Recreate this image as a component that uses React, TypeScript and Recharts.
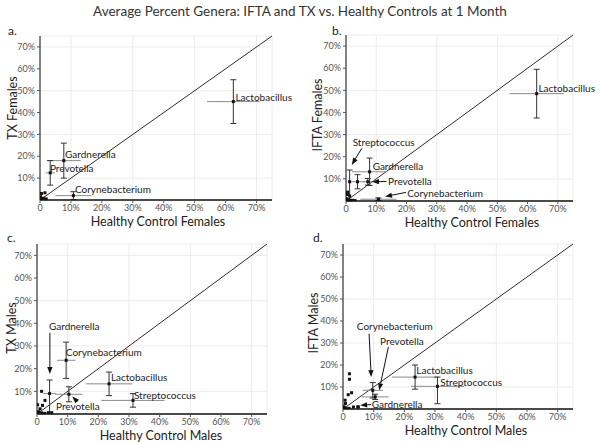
import {
  ScatterChart,
  Scatter,
  XAxis,
  YAxis,
  CartesianGrid,
  ErrorBar,
  ReferenceLine,
  ReferenceDot,
} from "recharts";

const FONT = "Lato, 'Open Sans', sans-serif";
const X_TICKS = [0, 10, 20, 30, 40, 50, 60, 70];
const Y_TICKS = [10, 20, 30, 40, 50, 60, 70];

// [genus, healthy %, patient %, x error, y error]
type Pt = [string, number, number, number | number[] | null, number | number[] | null];
type Lbl = [string, number, number];
type Arr = [number, number, number, number];

// a. TX Females vs Healthy Control Females
const aPoints: Pt[] = [
  ["Lactobacillus", 62.5, 45, 8.5, 10],
  ["Gardnerella", 7.7, 18, 5.5, 8],
  ["Prevotella", 3.3, 12.4, 1.5, 5.6],
  ["Corynebacterium", 10.8, 2, 5.8, 1.8],
];
const aMinor = [[0.5, 3], [1.6, 3.3], [0.2, 1.5], [1.1, 0.8], [0.3, 0.3], [2, 0.5], [0.8, 0.2]];
const aLabels: Lbl[] = [
  ["Lactobacillus", 63.2, 47.1],
  ["Gardnerella", 8.1, 20.6],
  ["Prevotella", 3.2, 14.6],
  ["Corynebacterium", 11.3, 5],
];
const aArrows: Arr[] = [];

// b. IFTA Females vs Healthy Control Females
const bPoints: Pt[] = [
  ["Lactobacillus", 63, 48.5, 9, 11],
  ["Gardnerella", 7.8, 13.2, 5.8, 6.2],
  ["Prevotella", 7.2, 8.7, 1.5, 1.5],
  ["Streptococcus", 1.2, 8.7, 0.5, [8.7, 5.3]],
  ["", 3.8, 8.7, 2.5, 3.2],
  ["Corynebacterium", 10.7, 0.8, 6, 0.6],
];
const bMinor = [[0.5, 3], [1.2, 2.3], [0.3, 1], [1.5, 0.3], [0.8, 0.5], [2.2, 0.3], [0.2, 0.2], [3, 0.2], [0.5, 4]];
const bLabels: Lbl[] = [
  ["Lactobacillus", 63.6, 51],
  ["Streptococcus", 2.2, 26.4],
  ["Gardnerella", 8.8, 15.5],
  ["Prevotella", 13.9, 9],
  ["Corynebacterium", 20.2, 3.6],
];
const bArrows: Arr[] = [
  [5.2, 23.8, 1.9, 16.3],
  [13.4, 8.8, 8.6, 8.7],
  [19.8, 3.9, 12.9, 2.0],
];

// c. TX Males vs Healthy Control Males
const cPoints: Pt[] = [
  ["Gardnerella", 4.1, 9, 2.1, [8.6, 6]],
  ["Corynebacterium", 9.5, 23.7, 3, 8],
  ["Prevotella", 10.4, 8.7, 4.4, 3.3],
  ["Lactobacillus", 23.5, 13.3, 7.6, 5.2],
  ["Streptococcus", 31.3, 6, 10.3, 3],
];
const cMinor = [[1.5, 10], [1.8, 3.8], [0.2, 4.1], [2.6, 6], [3.7, 0.6], [4.8, 0.6], [1, 2.3], [0.5, 1], [1.5, 0.5], [0.3, 0.3], [2.5, 0.3]];
const cLabels: Lbl[] = [
  ["Gardnerella", 3.9, 38.5],
  ["Corynebacterium", 9.4, 27],
  ["Lactobacillus", 24.1, 15.9],
  ["Streptococcus", 31.6, 8],
  ["Prevotella", 6.2, 3.5],
];
const cArrows: Arr[] = [
  [4.2, 35.8, 4.2, 17.7],
  [12.8, 5.9, 11.5, 7.7],
];

// d. IFTA Males vs Healthy Control Males
const dPoints: Pt[] = [
  ["Lactobacillus", 23.5, 14.5, 7.6, 5.5],
  ["Streptococcus", 30.8, 10.3, 8.7, [7.9, 4.2]],
  ["Corynebacterium", 9.7, 8.5, 3.3, 3.5],
  ["Prevotella", 10.5, 5.5, 4.4, 1.2],
  ["Gardnerella", 5, 1, null, null],
];
const dMinor = [[2.1, 16], [2.1, 13.5], [1.7, 6.5], [2.8, 7.4], [0.7, 4], [0.8, 2.5], [4.8, 0.9], [3.4, 0.9], [0.3, 1], [1, 0.4], [0.2, 0.2], [2, 0.3]];
const dLabels: Lbl[] = [
  ["Corynebacterium", 4.5, 37.7],
  ["Prevotella", 12.1, 30.9],
  ["Lactobacillus", 23.9, 17.3],
  ["Streptococcus", 31.7, 11.9],
  ["Gardnerella", 9.4, 2],
];
const dArrows: Arr[] = [
  [8.5, 34.2, 9.2, 14.5],
  [14.8, 28.2, 11.8, 8.5],
  [9.2, 2, 5.6, 1.7],
];

const panels = [
  {
    letter: "a.", left: 0, top: 0, h: 232, yw: 40, xh: 32, mt: 36, mr: 28, lx: 8, ly: 23,
    yTitle: "TX Females", yt: [12, 108], xTitle: "Healthy Control Females", xt: [158, 221],
    points: aPoints, minor: aMinor, labels: aLabels, arrows: aArrows,
  },
  {
    letter: "b.", left: 300, top: 0, h: 232, yw: 46, xh: 31, mt: 35, mr: 27, lx: 32, ly: 23,
    yTitle: "IFTA Females", yt: [17, 115], xTitle: "Healthy Control Females", xt: [172, 222],
    points: bPoints, minor: bMinor, labels: bLabels, arrows: bArrows,
  },
  {
    letter: "c.", left: 0, top: 222, h: 222, yw: 37, xh: 30, mt: 22, mr: 33, lx: 7, ly: 8,
    yTitle: "TX Males", yt: [11, 106], xTitle: "Healthy Control Males", xt: [161, 213],
    points: cPoints, minor: cMinor, labels: cLabels, arrows: cArrows,
  },
  {
    letter: "d.", left: 300, top: 222, h: 222, yw: 43, xh: 35, mt: 22, mr: 27, lx: 13, ly: 8,
    yTitle: "IFTA Males", yt: [13, 101], xTitle: "Healthy Control Males", xt: [166, 208],
    points: dPoints, minor: dMinor, labels: dLabels, arrows: dArrows,
  },
];

const Square = (p: any) => (
  <rect x={p.cx - 1.5} y={p.cy - 1.5} width={3} height={3} fill="#111" />
);

const Arrow = (p: any) => {
  const { x1, y1, x2, y2 } = p;
  const a = Math.atan2(y2 - y1, x2 - x1);
  const bx = x2 - 7 * Math.cos(a);
  const by = y2 - 7 * Math.sin(a);
  const w = 2.6;
  const pts = `${x2},${y2} ${bx - w * Math.sin(a)},${by + w * Math.cos(a)} ${bx + w * Math.sin(a)},${by - w * Math.cos(a)}`;
  return (
    <g>
      <line x1={x1} y1={y1} x2={bx} y2={by} stroke="#111" strokeWidth={1} />
      <polygon points={pts} fill="#111" />
    </g>
  );
};

function Panel({ cfg }: { cfg: (typeof panels)[number] }) {
  const data = cfg.points.map(([name, x, y, ex, ey]) => ({ name, x, y, ex, ey }));
  const minor = cfg.minor.map(([x, y]) => ({ x, y }));
  const tick = { fontSize: 9, fill: "#555", fontFamily: FONT };
  return (
    <div style={{ position: "absolute", left: cfg.left, top: cfg.top }}>
      <ScatterChart
        width={300}
        height={cfg.h}
        margin={{ top: cfg.mt, right: cfg.mr, left: 0, bottom: 0 }}
        style={{ fontFamily: FONT }}
      >
        <CartesianGrid stroke="#ececec" />
        <XAxis
          type="number"
          dataKey="x"
          domain={[0, 75]}
          ticks={X_TICKS}
          allowDataOverflow
          height={cfg.xh}
          tick={tick}
          tickSize={3}
          tickFormatter={(v) => (v === 0 ? "0" : `${v}%`)}
          axisLine={{ stroke: "#111", strokeWidth: 1.5 }}
          tickLine={{ stroke: "#555" }}
          label={{
            content: () => (
              <text
                x={cfg.xt[0]}
                y={cfg.xt[1]}
                textAnchor="middle"
                dominantBaseline="central"
                fontSize={12.5}
                fill="#222"
                fontFamily={FONT}
              >
                {cfg.xTitle}
              </text>
            ),
          }}
        />
        <YAxis
          type="number"
          dataKey="y"
          domain={[0, 75]}
          ticks={Y_TICKS}
          allowDataOverflow
          width={cfg.yw}
          tick={tick}
          tickSize={3}
          tickFormatter={(v) => `${v}%`}
          axisLine={{ stroke: "#111" }}
          tickLine={{ stroke: "#555" }}
          label={{
            content: () => (
              <text
                x={cfg.yt[0]}
                y={cfg.yt[1]}
                transform={`rotate(-90 ${cfg.yt[0]} ${cfg.yt[1]})`}
                textAnchor="middle"
                dominantBaseline="central"
                fontSize={12.5}
                fill="#222"
                fontFamily={FONT}
              >
                {cfg.yTitle}
              </text>
            ),
          }}
        />
        <ReferenceLine
          segment={[{ x: 0, y: 0 }, { x: 75, y: 75 }]}
          stroke="#3b2828"
          strokeWidth={1}
          ifOverflow="extendDomain"
        />
        <Scatter data={minor} shape={Square} isAnimationActive={false} />
        <Scatter data={data} shape={Square} isAnimationActive={false}>
          <ErrorBar dataKey="ex" direction="x" width={0} stroke="#8a8a8a" strokeWidth={1} />
          <ErrorBar dataKey="ey" direction="y" width={3} stroke="#333" strokeWidth={1} />
        </Scatter>
        {cfg.arrows.map(([x1, y1, x2, y2], i) => (
          <ReferenceLine
            key={`ar${i}`}
            segment={[{ x: x1, y: y1 }, { x: x2, y: y2 }]}
            shape={Arrow}
          />
        ))}
        {cfg.labels.map(([text, x, y]) => (
          <ReferenceDot
            key={text}
            x={x}
            y={y}
            r={0}
            shape={(p: any) => (
              <text x={p.cx} y={p.cy} dy="0.35em" fontSize={10} fill="#222" fontFamily={FONT}>
                {text}
              </text>
            )}
          />
        ))}
      </ScatterChart>
      <div
        style={{
          position: "absolute",
          left: cfg.lx,
          top: cfg.ly,
          fontSize: 12,
          fontFamily: FONT,
          color: "#222",
        }}
      >
        {cfg.letter}
      </div>
    </div>
  );
}

export default function App() {
  return (
    <div
      style={{
        position: "absolute",
        left: 0,
        top: 0,
        width: 600,
        height: 444,
        background: "#fff",
        fontFamily: FONT,
      }}
    >
      {panels.map((p) => (
        <Panel key={p.letter} cfg={p} />
      ))}
      <div
        style={{
          position: "absolute",
          left: 0,
          top: 3,
          width: 600,
          textAlign: "center",
          fontSize: 13.5,
          color: "#333",
        }}
      >
        Average Percent Genera: IFTA and TX vs. Healthy Controls at 1 Month
      </div>
    </div>
  );
}
